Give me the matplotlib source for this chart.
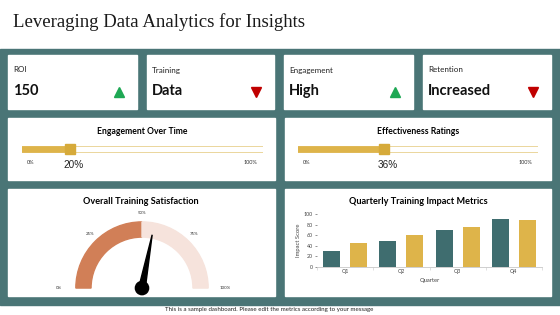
#!/usr/bin python3

# import required libraries
import numpy as np
import matplotlib
matplotlib.use("Agg")
import matplotlib.pyplot as plt
from matplotlib.patches import Rectangle, Wedge, Polygon, Circle

plt.rcParams['font.family'] = ['Lato', 'DejaVu Sans']

W, H = 560, 315
TEAL_BG = "#4a7576"
TEAL_BAR = "#3f6d6f"
GOLD = "#deb44a"
GOLD_DARK = "#d6aa3a"
TERRA = "#d17f57"
BLUSH = "#f6e3dc"
UP = "#1ea854"
DOWN = "#c00000"

# KPI cards
kpi_labels = ["ROI", "Training", "Engagement", "Retention"]
kpi_values = ["150", "Data", "High", "Increased"]
kpi_trend = ["up", "down", "up", "down"]

# progress sliders
slider_titles = ["Engagement Over Time", "Effectiveness Ratings"]
slider_values = [20, 36]

# gauge
gauge_title = "Overall Training Satisfaction"
gauge_fill = 50
gauge_needle = 56
gauge_ticks = [0, 25, 50, 75, 100]

# quarterly bars
quarters = ["Q1", "Q2", "Q3", "Q4"]
series_a = [30, 50, 70, 90]
series_b = [45, 60, 75, 88]


def rect(x0, y0, x1, y1):
    # pixel box (top-left origin) -> figure fraction
    return [x0 / W, 1 - y1 / H, (x1 - x0) / W, (y1 - y0) / H]


def main():
    fig = plt.figure(figsize=(W / 100, H / 100), dpi=100)
    ax = fig.add_axes([0, 0, 1, 1])
    ax.set_xlim(0, W)
    ax.set_ylim(H, 0)
    ax.axis("off")

    ax.text(13, 22, "Leveraging Data Analytics for Insights", fontsize=13.5,
            family="Liberation Serif", va="center", ha="left", color="#1a1a1a")
    ax.add_patch(Rectangle((0, 49), W, 256, color=TEAL_BG, zorder=0))
    ax.text(269, 310, "This is a sample dashboard. Please edit the metrics according to your message",
            fontsize=4.4, ha="center", va="center", color="#222222")

    # top cards
    card_x = [(8, 137), (147, 274), (284, 413), (423, 551)]
    for (x0, x1), lab, val, tr in zip(card_x, kpi_labels, kpi_values, kpi_trend):
        ax.add_patch(Rectangle((x0, 55), x1 - x0, 54, color="white", zorder=1))
        ax.text(x0 + 5, 70, lab, fontsize=5.8, va="center", ha="left", color="#222222", zorder=2)
        ax.text(x0 + 5, 91, val, fontsize=10.5, fontweight="bold", va="center", ha="left",
                color="#111111", zorder=2)
        ax.plot(x1 - 18, 92, marker="^" if tr == "up" else "v", markersize=7.5,
                color=UP if tr == "up" else DOWN, zorder=3)

    # middle + bottom cards
    for (x0, x1) in [(8, 275), (285, 551)]:
        ax.add_patch(Rectangle((x0, 118), x1 - x0, 62, color="white", zorder=1))
        ax.add_patch(Rectangle((x0, 189), x1 - x0, 107, color="white", zorder=1))

    # sliders
    slider_x = [(22, 263), (298, 538)]
    for (x0, x1), title, val in zip(slider_x, slider_titles, slider_values):
        cx = (x0 + x1) / 2
        ax.text(cx, 131, title, fontsize=6.2, fontweight="bold", ha="center", va="center", zorder=2)
        sax = fig.add_axes(rect(x0, 143, x1, 155))
        sax.set_xlim(0, 100)
        sax.set_ylim(-1, 1)
        sax.axis("off")
        sax.plot([0, 100], [0, 0], lw=4.8, color="#e2c470", solid_capstyle="round")
        sax.plot([0, 100], [0, 0], lw=3.9, color="white", solid_capstyle="round")
        sax.plot([0, val], [0, 0], lw=4.8, color=GOLD, solid_capstyle="round")
        sax.plot(val, 0, marker="s", markersize=7.2, color=GOLD_DARK)
        ax.text(x0 + 9, 163, "0%", fontsize=4, ha="center", va="center", color="#333333", zorder=2)
        ax.text(x1 - 13, 163, "100%", fontsize=4, ha="center", va="center", color="#333333", zorder=2)
        ax.text(x0 + (x1 - x0) * val / 100 + 3, 165, f"{val}%", fontsize=7.2,
                family="Liberation Sans", ha="center", va="center", color="#222222", zorder=2)

    # gauge
    ax.text(141, 201, gauge_title, fontsize=6.6, fontweight="bold", ha="center", va="center", zorder=2)
    gax = fig.add_axes(rect(52, 208, 232, 296))
    gax.set_xlim(-1.36, 1.36)
    gax.set_ylim(-0.12, 1.21)
    gax.set_aspect("equal")
    gax.axis("off")
    r_out, width = 1.0, 0.23
    a_fill = 180 - 180 * gauge_fill / 100
    gax.add_patch(Wedge((0, 0), r_out, a_fill, 180, width=width, color=TERRA))
    gax.add_patch(Wedge((0, 0), r_out, 0, a_fill, width=width, color=BLUSH))
    for t in gauge_ticks:
        a = np.radians(180 - 180 * t / 100)
        rr = 1.12 if t in (25, 50, 75) else 1.25
        gax.text(rr * np.cos(a), rr * np.sin(a) + (0.0 if t in (0, 100) else 0.02), f"{t}%",
                 fontsize=3.2, ha="center", va="center", color="#333333")
    a = np.radians(180 - 180 * gauge_needle / 100)
    tip = 0.82 * np.array([np.cos(a), np.sin(a)])
    perp = 0.05 * np.array([-np.sin(a), np.cos(a)])
    gax.add_patch(Polygon([perp, tip, -perp], closed=True, color="black"))
    gax.add_patch(Circle((0, 0), 0.1, color="black"))

    # bar chart
    ax.text(418, 201, "Quarterly Training Impact Metrics", fontsize=6.6, fontweight="bold",
            ha="center", va="center", zorder=2)
    bax = fig.add_axes(rect(317, 214, 542, 267))
    xs = np.arange(len(quarters))
    bax.bar(xs - 0.24, series_a, width=0.3, color=TEAL_BAR)
    bax.bar(xs + 0.24, series_b, width=0.3, color=GOLD)
    bax.set_xlim(-0.5, 3.5)
    bax.set_ylim(0, 100)
    bax.set_yticks(range(0, 101, 20))
    bax.set_xticks(xs)
    bax.set_xticklabels(quarters)
    bax.set_xticks(np.arange(-0.5, 4, 1), minor=True)
    bax.tick_params(axis="both", labelsize=3.8, colors="#444444", length=1.5, width=0.4, pad=1.5)
    bax.tick_params(axis="x", which="major", length=0)
    bax.tick_params(axis="x", which="minor", length=2, width=0.4, color="#c8c8c8")
    for s in ["top", "right", "left"]:
        bax.spines[s].set_visible(False)
    bax.spines["bottom"].set_color("#c8c8c8")
    bax.spines["bottom"].set_linewidth(0.6)
    bax.set_xlabel("Quarter", fontsize=4.2, color="#444444", labelpad=2.5)
    bax.set_ylabel("Impact Score", fontsize=4.2, color="#444444", labelpad=2)

    fig.savefig("out.png", dpi=100)


if __name__ == '__main__':
    main()
